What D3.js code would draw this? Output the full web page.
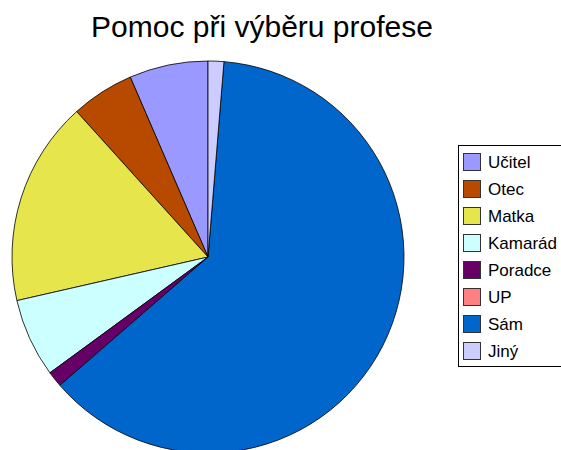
<!DOCTYPE html>
<html>
<head>
<meta charset="utf-8">
<script src="https://cdn.jsdelivr.net/npm/d3@7"></script>
<style>
  body { margin: 0; background: #fff; }
  text { font-family: "Liberation Sans", Arial, sans-serif; fill: #000; }
</style>
</head>
<body>
<div id="chart"></div>
<script>
const categories = ['Učitel', 'Otec', 'Matka', 'Kamarád', 'Poradce', 'UP', 'Sám', 'Jiný'];
const counts = [5, 4, 13, 5, 1, 0, 48, 1];
const colors = ['#9999FF', '#B84A00', '#E6E64C', '#CCFFFF', '#660066', '#FF8080', '#0066CC', '#CCCCFF'];
const title = 'Pomoc při výběru profese';

const W = 561, H = 450;
const cx = 208, cy = 257, radius = 196;

const data = categories.map((c, i) => ({ name: c, value: counts[i], color: colors[i] }));

const svg = d3.select('#chart').append('svg')
  .attr('width', W)
  .attr('height', H);

svg.append('text')
  .attr('x', 262)
  .attr('y', 37)
  .attr('text-anchor', 'middle')
  .style('font-size', '30px')
  .text(title);

// slices run counter-clockwise from 12 o'clock
const pie = d3.pie()
  .value(d => d.value)
  .sort(null)
  .startAngle(0)
  .endAngle(-2 * Math.PI);

const arc = d3.arc().innerRadius(0).outerRadius(radius);

const g = svg.append('g').attr('transform', `translate(${cx},${cy})`);

g.selectAll('path')
  .data(pie(data).filter(d => d.data.value > 0))
  .join('path')
  .attr('d', arc)
  .attr('fill', d => d.data.color)
  .attr('stroke', '#000')
  .attr('stroke-width', 0.8)
  .attr('stroke-linejoin', 'round');

// legend
const lx = 458, ly = 145, rowH = 27;
const legend = svg.append('g');

legend.append('rect')
  .attr('x', lx + 0.5)
  .attr('y', ly + 0.5)
  .attr('width', 130)
  .attr('height', 221)
  .attr('fill', '#fff')
  .attr('stroke', '#000')
  .attr('stroke-width', 1);

const items = legend.selectAll('g.item')
  .data(data)
  .join('g')
  .attr('class', 'item')
  .attr('transform', (d, i) => `translate(${lx + 5},${162 + i * rowH})`);

items.append('rect')
  .attr('x', 0.5)
  .attr('y', -8.5)
  .attr('width', 17)
  .attr('height', 17)
  .attr('fill', d => d.color)
  .attr('stroke', '#333')
  .attr('stroke-width', 1);

items.append('text')
  .attr('x', 25)
  .attr('y', 6)
  .style('font-size', '17px')
  .text(d => d.name);
</script>
</body>
</html>
